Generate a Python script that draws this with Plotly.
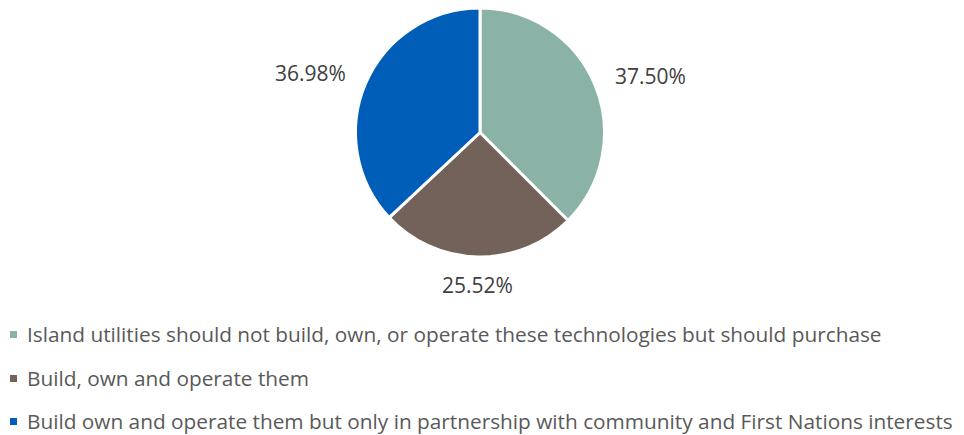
import math
import plotly.graph_objects as go

# Survey responses: who should own island generation technologies
categories = [
    "Island utilities should not build, own, or operate these technologies but should purchase",
    "Build, own and operate them",
    "Build own and operate them but only in partnership with community and First Nations interests",
]
shares = [37.50, 25.52, 36.98]
colors = ["#8AB2A6", "#736259", "#005EB8"]

W, H = 964, 435
cx, cy, R = 480, 132.5, 124.5  # pie centre and radius in pixels
FONT = "Open Sans"

fig = go.Figure(
    go.Pie(
        labels=categories,
        values=shares,
        sort=False,
        direction="clockwise",
        rotation=0,
        marker=dict(colors=colors, line=dict(color="white", width=3)),
        textinfo="none",
        showlegend=False,
        hoverinfo="label+value",
        domain=dict(x=[(cx - R) / W, (cx + R) / W], y=[1 - (cy + R) / H, 1 - (cy - R) / H]),
    )
)

annotations = []
shapes = []

# Percentage labels placed just outside each slice, at its mid-angle
total = sum(shares)
start = 0.0
for v in shares:
    mid = (start + v / 2) / total * 2 * math.pi
    start += v
    sx, sy = math.sin(mid), -math.cos(mid)  # screen direction, y down
    if abs(sx) > 0.3:
        gap = 19
        xa, ya = ("left" if sx > 0 else "right"), "middle"
    else:
        gap = 12
        xa, ya = "center", ("top" if sy > 0 else "bottom")
    px = cx + (R + gap) * sx
    py = cy + (R + gap) * sy - (2 if ya == "middle" else 0)
    annotations.append(dict(
        text=f"{v:.2f}%", xref="paper", yref="paper",
        x=px / W, y=1 - py / H, xanchor=xa, yanchor=ya,
        showarrow=False, font=dict(family=FONT, size=21, color="#404040"),
    ))

# Legend drawn as coloured squares followed by labels
legend_rows = [334, 378, 421]
for label, color, y in zip(categories, colors, legend_rows):
    shapes.append(dict(
        type="rect", xref="paper", yref="paper",
        x0=10 / W, x1=17 / W, y0=1 - (y + 4) / H, y1=1 - (y - 3) / H,
        fillcolor=color, line=dict(width=0),
    ))
    annotations.append(dict(
        text=label, xref="paper", yref="paper",
        x=25 / W, y=1 - y / H, xanchor="left", yanchor="middle",
        showarrow=False, font=dict(family=FONT, size=20.8, color="#595959"),
    ))

fig.update_layout(
    width=W, height=H,
    margin=dict(l=0, r=0, t=0, b=0),
    paper_bgcolor="white",
    plot_bgcolor="white",
    shapes=shapes,
    annotations=annotations,
)

fig.write_html("out.html")
